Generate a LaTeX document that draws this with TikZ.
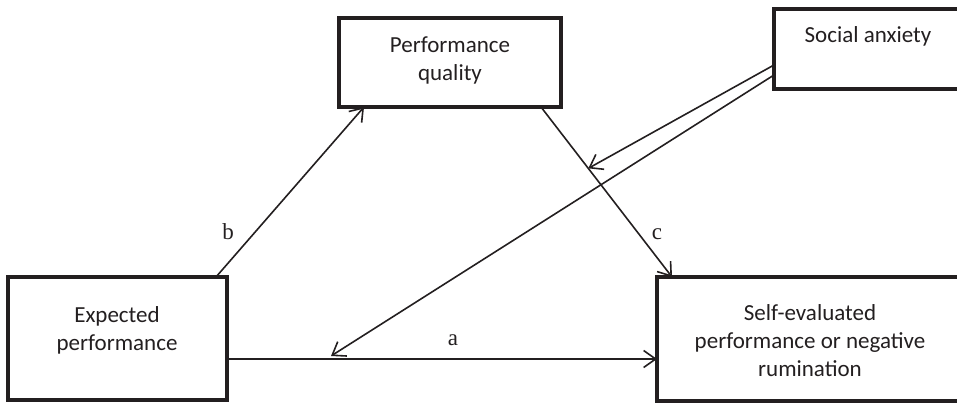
\documentclass[tikz,border=0pt]{standalone}
\usepackage{fontspec}
\setmainfont{Liberation Serif}
\newfontfamily\boxfont{Carlito}
\usetikzlibrary{arrows.meta,calc}
\definecolor{ink}{HTML}{231F20}
\begin{document}
\begin{tikzpicture}[x=1pt,y=-1pt,
  box/.style={draw=ink,line width=4pt,outer sep=0pt,inner sep=0pt,rectangle},
  boxtext/.style={font=\boxfont\fontsize{23}{28}\selectfont,text=ink,align=center,inner sep=0pt},
  arr/.style={draw=ink,line width=1.6pt,-{Straight Barb[length=12pt,width=17pt,line width=1.6pt]}},
  pathlabel/.style={font=\fontsize{23}{28}\selectfont,text=ink,inner sep=0pt}]
\useasboundingbox (0,0) rectangle (957,403);
\clip (0,0) rectangle (957,403);

% boxes
\node[box,minimum width=219pt,minimum height=123pt] (exp) at (117.5,338.5) {};
\node[box,minimum width=222pt,minimum height=89pt] (perf) at (450,62.5) {};
\node[box,minimum width=201pt,minimum height=80pt] (soc) at (874.5,49) {};
\node[box,minimum width=318pt,minimum height=124pt] (self) at (816,339) {};

% box texts
\node[boxtext] (expT) at (117,330.5) {Expected\\performance};
\node[boxtext] (perfT) at (450,60.5) {Performance\\quality};
\node[boxtext] (socT) at (868,36.5) {Social anxiety};
\node[boxtext] (selfT) at (810,341) {Self-evaluated\\performance or negative\\rumination};

% end points of the paths
\coordinate (bS) at ([xshift=-11pt]exp.north east);
\coordinate (bE) at ([xshift=25pt]perf.south west);
\coordinate (cS) at ([xshift=-20pt]perf.south east);
\coordinate (cE) at ([xshift=15pt]self.north west);
\coordinate (aS) at ([yshift=-20.5pt]exp.east);
\coordinate (aE) at (aS -| self.west);
\coordinate (s1) at ([yshift=-16pt]soc.west);
\coordinate (s2) at ([yshift=-26pt]soc.west);
\coordinate (onC) at ($(cS)!0.361!(cE)$);
\coordinate (onA) at ([xshift=104pt,yshift=3pt]aS);

% paths
\draw[arr] (bS) -- (bE);
\draw[arr] (cS) -- (cE);
\draw[arr] (aS) -- (aE);
\draw[arr] (s1) -- (onC);
\draw[arr] (s2) -- (onA);

% path labels
\node[pathlabel] (lb) at (228,232) {b};
\node[pathlabel] (lc) at (657,234) {c};
\node[pathlabel] (la) at (453,340) {a};
\end{tikzpicture}
\end{document}
